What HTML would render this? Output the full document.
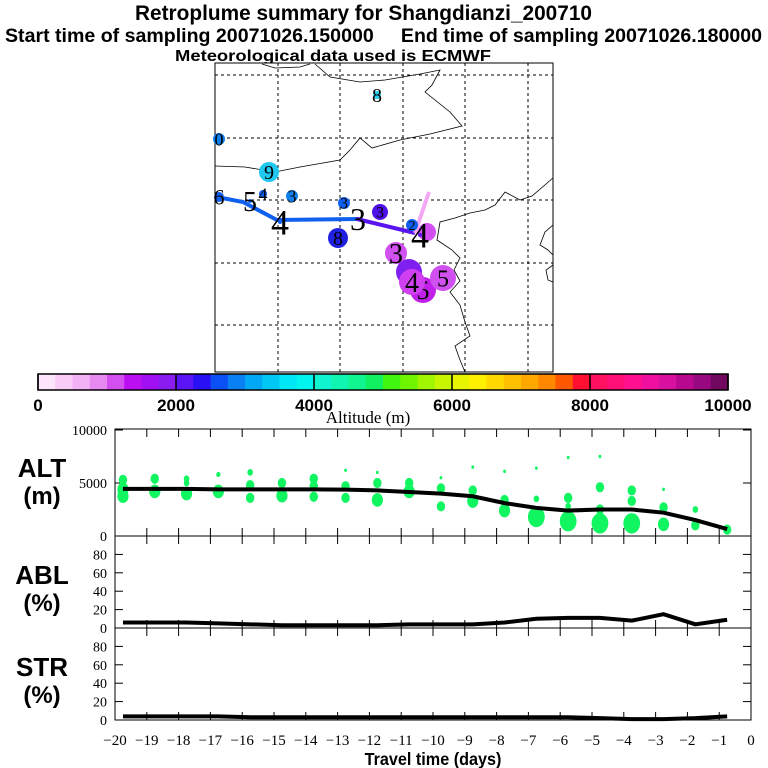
<!DOCTYPE html>
<html><head><meta charset="utf-8">
<style>
html,body{margin:0;padding:0;background:#fff;}
svg{display:block;}
.t{font-family:"Liberation Sans",sans-serif;font-weight:bold;}
.s{font-family:"Liberation Serif",serif;}
</style></head>
<body>
<svg id="chart" width="768" height="768" viewBox="0 0 768 768" xmlns="http://www.w3.org/2000/svg">
<g>
<text class="t" x="135" y="20" font-size="21" textLength="457" lengthAdjust="spacingAndGlyphs">Retroplume summary for Shangdianzi_200710</text>
<text class="t" x="5" y="42" font-size="19" textLength="757" lengthAdjust="spacingAndGlyphs">Start time of sampling 20071026.150000 &#160;&#160;&#160; End time of sampling 20071026.180000</text>
<text class="t" x="175" y="61" font-size="16" textLength="316" lengthAdjust="spacingAndGlyphs">Meteorological data used is ECMWF</text>
</g>
<g id="map"></g>
<g id="cbar"></g>
<g id="panels"></g>
</svg>
<script>
// ---- data ----
const altDays = [-19.75,-18.75,-17.75,-16.75,-15.75,-14.75,-13.75,-12.75,-11.75,-10.75,-9.75,-8.75,-7.75,-6.75,-5.75,-4.75,-3.75,-2.75,-1.75,-0.75];
const altMean = [4450,4450,4450,4400,4400,4400,4400,4380,4300,4150,4000,3750,3100,2650,2400,2500,2500,2200,1500,650];
const ablPct = [6,6,6,5,4,3,3,3,3,4,4,4,6,10,11,11,8,15,4,9];
const strPct = [4,4,4,4,3,3,3,3,3,3,3,3,3,3,3,2,1,1,2,4];
const clusterDay = [-19.75,-19.75,-19.75,-18.75,-18.75,-17.75,-17.75,-17.75,-16.75,-16.75,-15.75,-15.75,-15.75,-14.75,-14.75,-13.75,-13.75,-13.75,-12.75,-12.75,-12.75,-11.75,-11.75,-11.75,-10.75,-10.75,-9.75,-9.75,-9.75,-8.75,-8.75,-8.75,-7.75,-7.75,-7.75,-6.75,-6.75,-6.75,-5.75,-5.75,-5.75,-5.75,-4.75,-4.75,-4.75,-4.75,-3.75,-3.75,-3.75,-2.75,-2.75,-2.75,-1.75,-1.75,-0.75];
const clusterAlt = [5300,4400,3750,5400,4200,5400,5000,4000,5800,4200,6000,4800,3600,5000,3800,5400,4700,3700,6200,4700,3600,6000,5000,3400,5000,4200,5500,4500,2800,6500,4300,3300,6100,3400,2400,6400,3500,1800,7400,3600,2800,1400,7500,4600,2500,1200,4300,3300,1200,4400,2700,1100,2500,1000,600];
const clusterFrac = [3,4,4,3,4,2,2,4,1.5,4,2,3,3,3,4,3,3,3,1,3,3,1,3,4,3,4,1,3,3,1,3,4,1,3,4,1,2,6,1,3,2,6,1,3,3,6,3,3,6,1,3,4,2,3,3];
const xTicks = [-20,-19,-18,-17,-16,-15,-14,-13,-12,-11,-10,-9,-8,-7,-6,-5,-4,-3,-2,-1,0];
const pctTicks = [0,20,40,60,80];
const altTicks = [0,5000,10000];
const cbarColors = ["#fde6fb","#f9ccf7","#f2b0f5","#e68af2","#d44ff0","#bb0ff2","#a010f2","#8a1cf0",
 "#5a14f5","#2a10f5","#0a50f5","#0a80f5","#00a8f5","#00c8f5","#00e8f5","#00f5f0",
 "#10f5d0","#10f5b0","#10f590","#10f060","#40f510","#70f500","#a0f500","#c8f500",
 "#e8f500","#fff000","#ffd800","#ffc000","#ffa800","#ff8800","#ff5800","#ff1030",
 "#ff1060","#ff1078","#ff1090","#f010a0","#d810a0","#b80890","#980880","#700860"];
const cbarLabels = [0,2000,4000,6000,8000,10000];

const NS="http://www.w3.org/2000/svg";
function mk(parent,tag,attrs){const e=document.createElementNS(NS,tag);for(const k in attrs)e.setAttribute(k,attrs[k]);parent.appendChild(e);return e;}

// ---- axes ----
const X0=115,X1=751;
const xs=d=>X1+(X1-X0)/20*d;
const altY=a=>536-a*0.0106;
const ablY=p=>628-p*0.92;
const strY=p=>720-p*0.92;

// ---- map ----
const map=document.getElementById('map');
const mb=mk(map,'rect',{x:215,y:63,width:338,height:309,fill:'#fff',stroke:'#000','stroke-width':1});

[278,340,403,465,528].forEach(x=>{const l=mk(map,'line',{x1:x,y1:63,x2:x,y2:372,stroke:'#000','stroke-dasharray':'3,3','stroke-width':1});});
[75,138,200,263,325].forEach(y=>{const l=mk(map,'line',{x1:215,y1:y,x2:553,y2:y,stroke:'#000','stroke-dasharray':'3,3','stroke-width':1});});
const coasts=["315,64 330,77 360,82 385,80 420,74 440,70 432,85 425,92 450,112 462,126 430,134 400,140 372,148 360,138 350,150 340,160 300,167 275,172 245,167 215,166",
"553,178 532,196 520,200 505,192 495,205 485,210 470,213 455,218 440,222 437,240 452,250 460,258 454,270 460,281 450,292 460,305 465,322 470,336 455,346 460,360 465,372",
"553,225 545,232 540,245 548,250 553,255","553,265 546,270 548,280 553,282","262,64 275,68 300,67 310,64"];
coasts.forEach(p=>{const c=mk(map,'polyline',{points:p,fill:'none',stroke:'#000','stroke-width':0.8});});
const tl1=mk(map,'polyline',{points:'217,197 243,202 277,220 357,219',fill:'none',stroke:'#1060f0','stroke-width':4});

const tl2=mk(map,'polyline',{points:'357,219 415,233',fill:'none',stroke:'#5a14f0','stroke-width':4});

const tl3=mk(map,'polyline',{points:'415,233 429,192',fill:'none',stroke:'#f2a8f2','stroke-width':4});

const circles=[[219,139,6,'#1080f0','0',18],[269,172,10,'#20c8f0','9',20],[377,95,4,'#20d0f0','8',20],[219,197,5,'#1060f0','6',22],[250,201,2,'#1060f0','5',28],[263,194,4,'#1060f0','4',18],[292,196,6,'#1080f0','3',18],[280,222,2,'#1060f0','4',36],[344,203,6,'#1060f0','3',16],[358,219,2,'#5a14f0','3',32],[380,212,8,'#5010e8','3',16],[338,238,10,'#2020e0','8',20],[412,225,6,'#1060f0','2',14],[427,232,9,'#d050f0','',14],[396,253,11,'#d050f0','3',28],[409,272,13,'#8020f0','',14],[423,290,13,'#c020e8','5',26],[412,282,13,'#d040f0','4',28],[443,278,13,'#d050f0','5',24],[420,235,2,'#5a14f0','4',36]];
circles.forEach(c=>{const g=mk(map,'g',{});
 mk(g,'circle',{cx:c[0],cy:c[1],r:c[2],fill:c[3]});
 if(c[4]){const t=mk(g,'text',{x:c[0],y:c[1]+c[5]*0.35,'font-size':c[5],'text-anchor':'middle',class:'s',fill:'#000'});t.textContent=c[4];}});

// ---- colorbar ----
const cb=document.getElementById('cbar');
const CB0=38,CB1=728,cw=(CB1-CB0)/cbarColors.length;
cbarColors.forEach((c,i)=>{const r=mk(cb,'rect',{x:CB0+i*cw,y:374,width:cw+0.5,height:16,fill:c});});
mk(cb,'rect',{x:CB0,y:374,width:CB1-CB0,height:16,fill:'none',stroke:'#000','stroke-width':1.5});
cbarLabels.forEach(v=>{const x=CB0+(CB1-CB0)*v/10000;mk(cb,'line',{x1:x,y1:374,x2:x,y2:390,stroke:'#000','stroke-width':1.5});
 const t=mk(cb,'text',{x:x,y:411,'font-size':17,'text-anchor':'middle',class:'t'});t.textContent=v;
 });
const cbt=mk(cb,'text',{x:368,y:423,'font-size':17,'text-anchor':'middle',class:'s'});cbt.textContent='Altitude (m)';


// ---- panels ----
const P=document.getElementById('panels');
function panel(name,top,bottom,yTicksArr,yfn,label1,label2,labelY){
 const g=mk(P,'g',{});
 mk(g,'rect',{x:X0,y:top,width:X1-X0,height:bottom-top,fill:'none',stroke:'#000','stroke-width':1});
 xTicks.slice(1,-1).forEach(d=>{const x=xs(d);mk(g,'line',{x1:x,y1:top,x2:x,y2:top+8,stroke:'#000'});mk(g,'line',{x1:x,y1:bottom,x2:x,y2:bottom-8,stroke:'#000'});});
 yTicksArr.forEach(v=>{const y=yfn(v);mk(g,'line',{x1:X0,y1:y,x2:X0+8,y2:y,stroke:'#000'});mk(g,'line',{x1:X1,y1:y,x2:X1-8,y2:y,stroke:'#000'});
  const t=mk(g,'text',{x:X0-8,y:y+5,'font-size':14,'text-anchor':'end',class:'s'});t.textContent=v;
  });
 const l1=mk(g,'text',{x:42,y:labelY,'font-size':26,'text-anchor':'middle',class:'t'});l1.textContent=label1;
 
 const l2=mk(g,'text',{x:42,y:labelY+27,'font-size':24,'text-anchor':'middle',class:'t'});l2.textContent=label2;
 
 return g;
}
const gAlt=panel('altitude-panel',429,536,altTicks,altY,'ALT','(m)',477);
const gAbl=panel('abl-panel',536,628,pctTicks,ablY,'ABL','(%)',584);
const gStr=panel('str-panel',628,720,pctTicks,strY,'STR','(%)',676);

clusterDay.forEach((d,i)=>{const e=mk(gAlt,'ellipse',{cx:xs(d),cy:altY(clusterAlt[i]),rx:clusterFrac[i]*1.4,ry:clusterFrac[i]*1.7,fill:'#10f560'});
 });
function line(g,days,vals,yfn,name){const pts=days.map((d,i)=>xs(d)+','+yfn(vals[i])).join(' ');
 const l=mk(g,'polyline',{points:pts,fill:'none',stroke:'#000','stroke-width':4});}
line(gAlt,altDays,altMean,altY,'mean-altitude-line');
line(gAbl,altDays,ablPct,ablY,'abl-line');
line(gStr,altDays,strPct,strY,'str-line');

xTicks.forEach(d=>{const x=xs(d);const t=mk(P,'text',{x:x,y:745,'font-size':15,'text-anchor':'middle',class:'s'});t.textContent=(d<0?'\u2212'+(-d):d);
 });
const xt=mk(P,'text',{x:433,y:765,'font-size':18,'text-anchor':'middle',class:'t',transform:'translate(433,0) scale(0.9,1) translate(-433,0)'});xt.textContent='Travel time (days)';

</script>
</body></html>
